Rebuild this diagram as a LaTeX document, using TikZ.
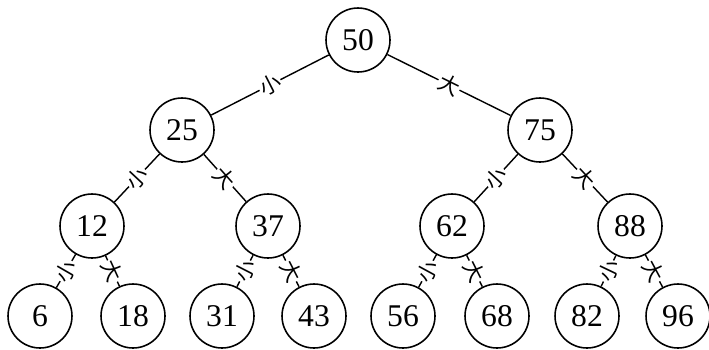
\documentclass[tikz,border=0pt]{standalone}
\usepackage{fontspec}
\setmainfont{Liberation Serif}
\newfontfamily\cjk{Noto Sans CJK SC}

\begin{document}
\begin{tikzpicture}[x=0.02cm, y=-0.02cm,
    vertex/.style={circle, draw, line width=0.9pt, minimum size=1.28cm, inner sep=0pt, font=\fontsize{18}{20}\selectfont},
    tag/.style={midway, sloped, fill=white, inner sep=0.6pt, font=\cjk\fontsize{12}{12}\selectfont}]
  \useasboundingbox (0,0) rectangle (709,349);
  % --- Level 0 and 1 ---
  \node[vertex] (n50) at (358,40) {50};
  \node[vertex] (n25) at (182,130) {25};
  \node[vertex] (n75) at (540,130) {75};
  % --- Level 2 ---
  \node[vertex] (n12) at (92,226) {12};
  \node[vertex] (n37) at (268,226) {37};
  \node[vertex] (n62) at (452,226) {62};
  \node[vertex] (n88) at (630,226) {88};
  % --- Leaves ---
  \node[vertex] (n6)  at (40,316)  {6};
  \node[vertex] (n18) at (133,316) {18};
  \node[vertex] (n31) at (222,316) {31};
  \node[vertex] (n43) at (314,316) {43};
  \node[vertex] (n56) at (403,316) {56};
  \node[vertex] (n68) at (497,316) {68};
  \node[vertex] (n82) at (587,316) {82};
  \node[vertex] (n96) at (678,316) {96};
  % --- Edges: left = small, right = large ---
  \draw[line width=0.8pt] (n50) -- node[tag] {小} (n25);
  \draw[line width=0.8pt] (n50) -- node[tag] {大} (n75);
  \draw[line width=0.8pt] (n25) -- node[tag] {小} (n12);
  \draw[line width=0.8pt] (n25) -- node[tag] {大} (n37);
  \draw[line width=0.8pt] (n75) -- node[tag] {小} (n62);
  \draw[line width=0.8pt] (n75) -- node[tag] {大} (n88);
  \draw[line width=0.8pt] (n12) -- node[tag] {小} (n6);
  \draw[line width=0.8pt] (n12) -- node[tag] {大} (n18);
  \draw[line width=0.8pt] (n37) -- node[tag] {小} (n31);
  \draw[line width=0.8pt] (n37) -- node[tag] {大} (n43);
  \draw[line width=0.8pt] (n62) -- node[tag] {小} (n56);
  \draw[line width=0.8pt] (n62) -- node[tag] {大} (n68);
  \draw[line width=0.8pt] (n88) -- node[tag] {小} (n82);
  \draw[line width=0.8pt] (n88) -- node[tag] {大} (n96);
\end{tikzpicture}
\end{document}
